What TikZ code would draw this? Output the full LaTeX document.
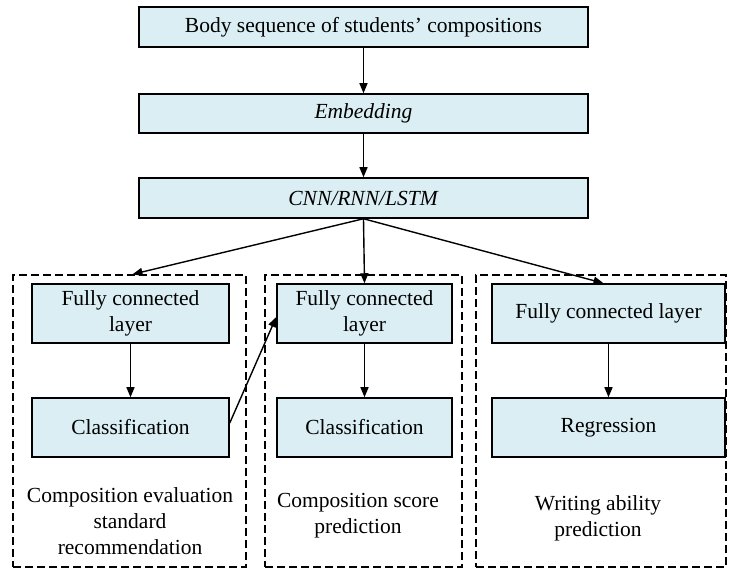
\documentclass[tikz,border=0pt]{standalone}
\usepackage{fontspec}
\setmainfont{Liberation Serif}
\newfontfamily\tnr[Ligatures=TeX]{Liberation Serif}
\usetikzlibrary{arrows.meta}
\definecolor{boxfill}{HTML}{DAEEF3}
\begin{document}
\begin{tikzpicture}[x=1pt,y=-1pt,
  every node/.style={font=\tnr\fontsize{21.5}{26}\selectfont},
  blk/.style={draw=black, line width=1.5pt, fill=boxfill, inner sep=0pt, align=center},
  grp/.style={draw=black, line width=1.4pt, dash pattern=on 8pt off 4pt, inner sep=0pt},
  lbl/.style={align=center, inner sep=0pt},
  arr/.style={line width=1.4pt, -{Triangle[length=10pt,width=8pt]}}
]
\useasboundingbox (0,0) rectangle (729,569);
\node[blk, minimum width=449pt, minimum height=40pt] (body) at (363.5,27) {Body sequence of students’ compositions};
\node[blk, minimum width=449pt, minimum height=39pt] (emb) at (363.5,113.5) {\textit{Embedding}};
\node[blk, minimum width=449pt, minimum height=40pt] (cnn) at (363.5,198) {\textit{CNN/RNN/LSTM}};

\node[grp, minimum width=233pt, minimum height=292pt] (g1) at (129.5,421) {};
\node[grp, minimum width=197pt, minimum height=292pt] (g2) at (363.5,421) {};
\node[grp, minimum width=250pt, minimum height=292pt] (g3) at (601,421) {};

\node[blk, minimum width=197pt, minimum height=59pt] (f1) at (130.5,313.5) {Fully connected\\layer};
\node[blk, minimum width=197pt, minimum height=59pt] (c1) at (130.5,427.5) {Classification};
\node[blk, minimum width=175pt, minimum height=59pt] (f2) at (364.5,313.5) {Fully connected\\layer};
\node[blk, minimum width=175pt, minimum height=59pt] (c2) at (364.5,427.5) {Classification};
\node[blk, minimum width=233pt, minimum height=59pt] (f3) at (608.5,313.5) {Fully connected layer};
\node[blk, minimum width=233pt, minimum height=59pt] (r3) at (608.5,427.5) {\vphantom{C}Regression};

\node[lbl] (t1) at (130,521) {Composition evaluation\\standard\\recommendation};
\node[lbl] (t2) at (358,516) {Composition score\\prediction};
\node[lbl] (t3) at (598,518) {Writing ability\\prediction};

\draw[arr] (body) -- (emb);
\draw[arr] (emb) -- (cnn);
\draw[arr] (cnn.south) -- ([xshift=3pt]g1.north);
\draw[arr] (cnn.south) -- (f2.north);
\draw[arr] (cnn.south) -- ([xshift=-5pt]f3.north);
\draw[arr] (f1) -- (c1);
\draw[arr] (f2) -- (c2);
\draw[arr] (f3) -- (r3);
\draw[arr] ([yshift=4.5pt]c1.east) -- ([yshift=-3.5pt]f2.west);
\end{tikzpicture}
\end{document}
